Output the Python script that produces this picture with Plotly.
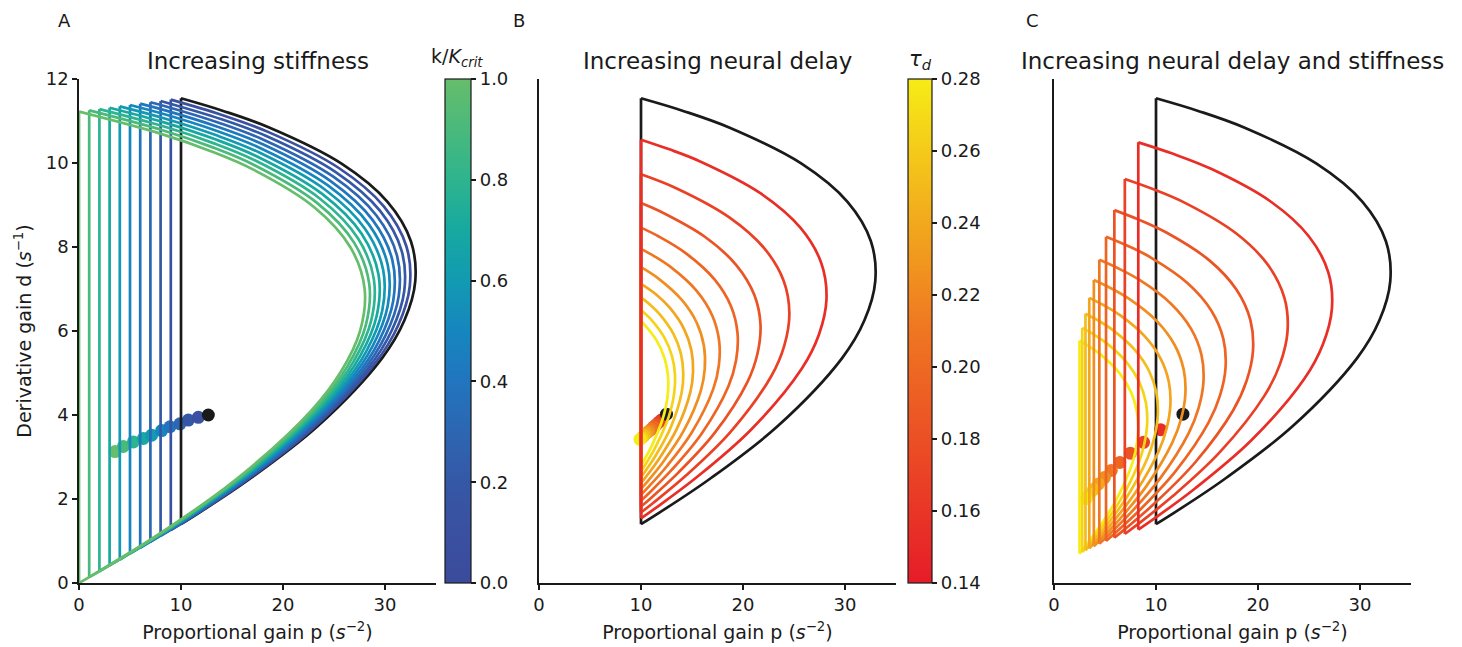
import plotly.graph_objects as go
from plotly.colors import sample_colorscale

# ---------------- data ----------------
P_TICKS = [0, 10, 20, 30]
D_TICKS = [0, 2, 4, 6, 8, 10, 12]

# Panel A: stiffness ratio k/Kcrit of each coloured boundary
A_KAPPA = [1.0, 0.9, 0.8, 0.7, 0.6, 0.5, 0.4, 0.3, 0.2, 0.1]
A_P = [
    [0, 2.000, 7.519, 15.159, 22.750, 25.689, 27.566, 28.003, 26.622, 23.065, 16.997, 12.926, 8.121, 0],
    [1, 2.980, 8.440, 15.984, 23.446, 26.311, 28.107, 28.457, 26.985, 23.332, 17.167, 13.047, 8.192, 1],
    [2, 3.960, 9.361, 16.810, 24.143, 26.932, 28.647, 28.910, 27.347, 23.600, 17.337, 13.167, 8.262, 2],
    [3, 4.940, 10.282, 17.635, 24.840, 27.554, 29.187, 29.364, 27.709, 23.868, 17.507, 13.288, 8.333, 3],
    [4, 5.920, 11.203, 18.460, 25.537, 28.175, 29.727, 29.817, 28.071, 24.135, 17.677, 13.408, 8.404, 4],
    [5, 6.900, 12.124, 19.286, 26.234, 28.797, 30.268, 30.271, 28.434, 24.403, 17.847, 13.529, 8.475, 5],
    [6, 7.880, 13.045, 20.111, 26.930, 29.419, 30.808, 30.725, 28.796, 24.670, 18.017, 13.649, 8.545, 6],
    [7, 8.860, 13.966, 20.936, 27.627, 30.040, 31.348, 31.178, 29.159, 24.938, 18.187, 13.770, 8.616, 7],
    [8, 9.840, 14.887, 21.762, 28.324, 30.662, 31.888, 31.632, 29.521, 25.205, 18.357, 13.890, 8],
    [9, 10.821, 15.809, 22.587, 29.020, 31.283, 32.429, 32.085, 29.883, 25.473, 18.527, 14.011, 9],
]
A_D = [
    [0, 0.284, 1.113, 2.420, 4.099, 5.036, 6.011, 7.003, 7.989, 8.948, 9.855, 10.282, 10.688, 11.222],
    [0.14, 0.423, 1.249, 2.552, 4.225, 5.158, 6.129, 7.116, 8.098, 9.051, 9.953, 10.378, 10.781, 11.253],
    [0.28, 0.562, 1.385, 2.683, 4.350, 5.279, 6.246, 7.230, 8.207, 9.155, 10.052, 10.473, 10.874, 11.284],
    [0.42, 0.701, 1.522, 2.815, 4.476, 5.401, 6.364, 7.343, 8.315, 9.259, 10.150, 10.569, 10.967, 11.317],
    [0.56, 0.840, 1.658, 2.947, 4.602, 5.523, 6.482, 7.456, 8.424, 9.363, 10.249, 10.665, 11.060, 11.349],
    [0.70, 0.979, 1.794, 3.079, 4.727, 5.645, 6.600, 7.570, 8.533, 9.466, 10.347, 10.761, 11.153, 11.381],
    [0.84, 1.118, 1.931, 3.210, 4.853, 5.767, 6.718, 7.683, 8.641, 9.570, 10.446, 10.857, 11.246, 11.413],
    [0.98, 1.257, 2.067, 3.342, 4.978, 5.889, 6.835, 7.797, 8.750, 9.674, 10.544, 10.953, 11.340, 11.445],
    [1.12, 1.396, 2.203, 3.474, 5.104, 6.011, 6.953, 7.910, 8.859, 9.778, 10.643, 11.048, 11.477],
    [1.26, 1.535, 2.339, 3.606, 5.229, 6.132, 7.071, 8.024, 8.968, 9.881, 10.741, 11.144, 11.509],
]
# reference (black) boundary, shared by the three panels
REF_P = [10, 11.801, 16.730, 23.412, 29.717, 31.905, 32.969, 32.539, 30.246, 25.740, 18.697, 14.131, 10]
REF_D = [1.40, 1.675, 2.476, 3.737, 5.355, 6.254, 7.189, 8.137, 9.076, 9.985, 10.840, 11.240, 11.541]

A_DOT_P = [3.53, 4.35, 5.33, 6.31, 7.12, 8.10, 8.92, 9.90, 10.72, 11.70]
A_DOT_D = [3.13, 3.25, 3.36, 3.44, 3.52, 3.63, 3.72, 3.79, 3.88, 3.945]
A_REF_DOT = (12.68, 4.00)

# Panels B and C: neural delay of each coloured boundary
TAU = [0.154, 0.168, 0.182, 0.196, 0.210, 0.224, 0.238, 0.252, 0.266, 0.280]
B_P = [
    [10, 11.454, 15.425, 20.782, 25.769, 27.447, 28.185, 27.679, 25.626, 21.737, 15.747, 12.708, 10],
    [10, 11.190, 14.432, 18.781, 22.766, 24.056, 24.546, 23.983, 22.112, 18.692, 13.503, 10],
    [10, 10.984, 13.660, 17.223, 20.429, 21.417, 21.715, 21.106, 19.377, 16.323, 11.757, 10],
    [10, 10.821, 13.047, 15.988, 18.574, 19.323, 19.467, 18.823, 17.207, 14.443, 11.739, 10],
    [10, 10.690, 12.552, 14.991, 17.078, 17.634, 17.655, 16.982, 15.456, 12.926, 11.241, 10],
    [10, 10.582, 12.148, 14.175, 15.854, 16.251, 16.171, 15.475, 14.023, 11.685, 10],
    [10, 10.493, 11.813, 13.499, 14.839, 15.105, 14.941, 14.225, 12.836, 11.399, 10],
    [10, 10.418, 11.531, 12.932, 13.988, 14.145, 13.911, 13.179, 11.841, 10.912, 10],
    [10, 10.355, 11.293, 12.453, 12.945, 13.269, 13.332, 13.039, 12.293, 10.998, 10],
    [10, 10.301, 11.090, 12.043, 12.429, 12.654, 12.638, 12.295, 11.537, 10.279, 10],
]
B_D = [
    [1.54, 1.788, 2.511, 3.649, 5.107, 5.918, 6.760, 7.614, 8.459, 9.276, 10.043, 10.331, 10.555],
    [1.68, 1.905, 2.563, 3.598, 4.923, 5.659, 6.423, 7.197, 7.962, 8.701, 9.395, 9.732],
    [1.82, 2.026, 2.628, 3.574, 4.785, 5.458, 6.155, 6.861, 7.559, 8.232, 8.862, 9.049],
    [1.96, 2.150, 2.703, 3.573, 4.686, 5.303, 5.943, 6.590, 7.229, 7.844, 8.251, 8.461],
    [2.10, 2.275, 2.786, 3.590, 4.616, 5.185, 5.774, 6.370, 6.957, 7.521, 7.790, 7.956],
    [2.24, 2.402, 2.876, 3.620, 4.571, 5.097, 5.641, 6.191, 6.733, 7.253, 7.519],
    [2.38, 2.531, 2.972, 3.663, 4.546, 5.034, 5.538, 6.047, 6.548, 6.886, 7.123],
    [2.52, 2.661, 3.072, 3.716, 4.537, 4.991, 5.460, 5.932, 6.396, 6.620, 6.800],
    [2.66, 2.792, 3.175, 3.777, 4.143, 4.543, 4.966, 5.402, 5.841, 6.271, 6.502],
    [2.80, 2.923, 3.282, 3.845, 4.187, 4.560, 4.955, 5.361, 5.770, 6.169, 6.239],
]
B_DOT_P = [12.0, 11.75, 11.5, 11.25, 11.0, 10.75, 10.5, 10.3, 10.1, 9.9]
B_DOT_D = [3.88, 3.83, 3.77, 3.72, 3.66, 3.61, 3.56, 3.51, 3.46, 3.42]
B_REF_DOT = (12.5, 4.02)

C_P = [
    [8.264, 9.753, 13.826, 19.349, 24.560, 26.368, 27.247, 26.892, 24.997, 21.273, 15.452, 11.679, 8.264],
    [6.944, 8.195, 11.618, 16.258, 20.637, 22.156, 22.895, 22.597, 21.004, 17.875, 12.984, 9.813, 6.944],
    [5.917, 6.983, 9.899, 13.853, 17.584, 18.879, 19.508, 19.254, 17.897, 15.231, 11.063, 8.362, 5.917],
    [5.102, 6.021, 8.536, 11.945, 15.162, 16.278, 16.821, 16.602, 15.432, 13.133, 9.539, 7.210, 5.102],
    [4.444, 5.245, 7.436, 10.405, 13.208, 14.180, 14.653, 14.462, 13.443, 11.440, 8.310, 6.280, 4.444],
    [3.906, 4.610, 6.535, 9.145, 11.608, 12.463, 12.878, 12.711, 11.815, 10.055, 7.303, 5.520, 3.906],
    [3.460, 4.083, 5.789, 8.101, 10.283, 11.040, 11.408, 11.259, 10.466, 8.907, 6.470, 4.890, 3.460],
    [3.086, 3.642, 5.164, 7.226, 9.172, 9.847, 10.176, 10.043, 9.335, 7.944, 5.771, 4.361, 3.086],
    [2.770, 3.269, 4.634, 6.485, 8.232, 8.838, 9.133, 9.014, 8.378, 7.130, 5.179, 3.914, 2.770],
    [2.500, 2.950, 4.183, 5.853, 7.429, 7.976, 8.242, 8.135, 7.562, 6.435, 4.674, 3.533, 2.500],
]
C_D = [
    [1.273, 1.522, 2.251, 3.398, 4.868, 5.686, 6.535, 7.397, 8.251, 9.077, 9.855, 10.218, 10.492],
    [1.167, 1.395, 2.063, 3.115, 4.462, 5.212, 5.991, 6.781, 7.564, 8.321, 9.033, 9.367, 9.618],
    [1.077, 1.288, 1.904, 2.875, 4.119, 4.811, 5.530, 6.259, 6.982, 7.681, 8.338, 8.646, 8.878],
    [1.000, 1.196, 1.768, 2.670, 3.825, 4.467, 5.135, 5.812, 6.483, 7.132, 7.743, 8.029, 8.244],
    [0.933, 1.116, 1.650, 2.492, 3.570, 4.169, 4.793, 5.425, 6.051, 6.657, 7.227, 7.493, 7.694],
    [0.875, 1.047, 1.547, 2.336, 3.347, 3.909, 4.493, 5.086, 5.673, 6.241, 6.775, 7.025, 7.213],
    [0.824, 0.985, 1.456, 2.198, 3.150, 3.679, 4.229, 4.786, 5.339, 5.874, 6.376, 6.612, 6.789],
    [0.778, 0.930, 1.375, 2.076, 2.975, 3.475, 3.994, 4.521, 5.042, 5.547, 6.022, 6.245, 6.412],
    [0.737, 0.881, 1.303, 1.967, 2.818, 3.292, 3.784, 4.283, 4.777, 5.255, 5.705, 5.916, 6.074],
    [0.700, 0.837, 1.238, 1.869, 2.677, 3.127, 3.594, 4.068, 4.538, 4.993, 5.420, 5.620, 5.771],
]
C_DOT_P = [10.45, 8.78, 7.48, 6.45, 5.62, 4.94, 4.37, 3.90, 3.50, 3.16]
C_DOT_D = [3.65, 3.35, 3.09, 2.87, 2.68, 2.51, 2.36, 2.23, 2.12, 2.01]
C_REF_DOT = (12.64, 4.02)

KAPPA_TICKS = [0.0, 0.2, 0.4, 0.6, 0.8, 1.0]
TAU_TICKS = [0.14, 0.16, 0.18, 0.20, 0.22, 0.24, 0.26, 0.28]
TAU_MIN, TAU_MAX = 0.14, 0.28

TITLES = ["Increasing stiffness", "Increasing neural delay", "Increasing neural delay and stiffness"]
LETTERS = ["A", "B", "C"]
XLABEL = "Proportional gain p (<i>s</i><sup>\u22122</sup>)"
YLABEL = "Derivative gain d (<i>s</i><sup>\u22121</sup>)"

# ---------------- styles ----------------
W, H = 1462, 647
FONT = "DejaVu Sans"
INK = "#1a1a1a"
KSCALE = [[0.0, "rgb(59,75,156)"], [0.1, "rgb(58,80,160)"], [0.2, "rgb(53,88,166)"],
          [0.3, "rgb(45,102,178)"], [0.4, "rgb(33,117,190)"], [0.5, "rgb(22,134,191)"],
          [0.6, "rgb(18,154,178)"], [0.7, "rgb(23,169,160)"], [0.8, "rgb(46,180,142)"],
          [0.9, "rgb(74,185,124)"], [1.0, "rgb(102,189,107)"]]
TSCALE = [[0.0, "rgb(230,28,40)"], [0.5, "rgb(239,118,34)"], [1.0, "rgb(246,236,22)"]]
LW = 2.7
DOT = 13

XDOM = [(79 / W, 436 / W), (539 / W, 896 / W), (1054 / W, 1411 / W)]
YDOM = (64 / H, 568 / H)

fig = go.Figure()


def add_panel(idx, ps, ds, colors, dot_p, dot_d, ref_dot):
    xa = "x" if idx == 0 else f"x{idx + 1}"
    ya = "y" if idx == 0 else f"y{idx + 1}"
    # optimal-gain dots (underneath the boundaries)
    fig.add_trace(go.Scatter(x=dot_p, y=dot_d, mode="markers", xaxis=xa, yaxis=ya,
                             marker=dict(size=DOT, color=colors, line=dict(width=0)),
                             hoverinfo="skip"))
    fig.add_trace(go.Scatter(x=[ref_dot[0]], y=[ref_dot[1]], mode="markers", xaxis=xa, yaxis=ya,
                             marker=dict(size=DOT, color=INK, line=dict(width=0)),
                             hoverinfo="skip"))
    # reference boundary first, then the coloured ones
    curves = [(REF_P, REF_D, INK)] + [(p, d, c) for p, d, c in zip(ps, ds, colors)][::-1]
    for p, d, c in curves:
        fig.add_trace(go.Scatter(x=p, y=d, mode="lines", xaxis=xa, yaxis=ya,
                                 line=dict(color=c, width=LW, shape="spline", smoothing=1),
                                 hoverinfo="skip"))
        fig.add_trace(go.Scatter(x=[p[0], p[-1]], y=[d[0], d[-1]], mode="lines", xaxis=xa, yaxis=ya,
                                 line=dict(color=c, width=LW), hoverinfo="skip"))


a_colors = sample_colorscale(KSCALE, A_KAPPA)
t_frac = [(t - TAU_MIN) / (TAU_MAX - TAU_MIN) for t in TAU]
t_colors = sample_colorscale(TSCALE, t_frac)

add_panel(0, A_P, A_D, a_colors, A_DOT_P, A_DOT_D, A_REF_DOT)
add_panel(1, B_P, B_D, t_colors, B_DOT_P, B_DOT_D, B_REF_DOT)
add_panel(2, C_P, C_D, t_colors, C_DOT_P, C_DOT_D, C_REF_DOT)

# colorbars (dummy traces outside the visible range)
fig.add_trace(go.Scatter(
    x=[-100, -100], y=[-100, -100], mode="markers", xaxis="x", yaxis="y", hoverinfo="skip",
    marker=dict(color=[0, 1], cmin=0, cmax=1, colorscale=KSCALE, showscale=True,
                colorbar=dict(x=445 / W, xanchor="left", y=YDOM[0], yanchor="bottom",
                              len=504, lenmode="pixels", thickness=26, thicknessmode="pixels",
                              xpad=0, ypad=0, outlinewidth=1.2, outlinecolor=INK,
                              ticks="outside", ticklen=5, tickwidth=1.5, tickcolor=INK,
                              tickvals=KAPPA_TICKS, ticktext=[f"{v:.1f}" for v in KAPPA_TICKS],
                              tickfont=dict(size=18, family=FONT, color=INK)))))
fig.add_trace(go.Scatter(
    x=[-100, -100], y=[-100, -100], mode="markers", xaxis="x2", yaxis="y2", hoverinfo="skip",
    marker=dict(color=[TAU_MIN, TAU_MAX], cmin=TAU_MIN, cmax=TAU_MAX, colorscale=TSCALE, showscale=True,
                colorbar=dict(x=908 / W, xanchor="left", y=YDOM[0], yanchor="bottom",
                              len=504, lenmode="pixels", thickness=24, thicknessmode="pixels",
                              xpad=0, ypad=0, outlinewidth=1.2, outlinecolor=INK,
                              ticks="outside", ticklen=5, tickwidth=1.5, tickcolor=INK,
                              tickvals=TAU_TICKS, ticktext=[f"{v:.2f}" for v in TAU_TICKS],
                              tickfont=dict(size=18, family=FONT, color=INK)))))

xcommon = dict(range=[0, 35], tickvals=P_TICKS, showline=True, linecolor=INK, linewidth=1.6,
               ticks="outside", ticklen=5, tickwidth=1.6, tickcolor=INK, showgrid=False,
               zeroline=False, tickfont=dict(size=18, family=FONT, color=INK), automargin=False,
               title=dict(text=XLABEL, font=dict(size=19, family=FONT, color=INK), standoff=11))
ycommon = dict(range=[0, 12], domain=list(YDOM), showline=True, linecolor=INK, linewidth=1.6,
               showgrid=False, zeroline=False, automargin=False)

fig.update_layout(
    width=W, height=H, margin=dict(l=0, r=0, t=0, b=0),
    paper_bgcolor="white", plot_bgcolor="white", showlegend=False,
    font=dict(family=FONT, size=18, color=INK),
    xaxis=dict(domain=list(XDOM[0]), anchor="y", **xcommon),
    xaxis2=dict(domain=list(XDOM[1]), anchor="y2", **xcommon),
    xaxis3=dict(domain=list(XDOM[2]), anchor="y3", **xcommon),
    yaxis=dict(anchor="x", tickvals=D_TICKS, ticks="outside", ticklen=5, tickwidth=1.6,
               tickcolor=INK, tickfont=dict(size=18, family=FONT, color=INK),
               title=dict(text=YLABEL, font=dict(size=19, family=FONT, color=INK), standoff=9),
               **ycommon),
    yaxis2=dict(anchor="x2", ticks="", showticklabels=False, **ycommon),
    yaxis3=dict(anchor="x3", ticks="", showticklabels=False, **ycommon),
)

ann = []
centers = [(XDOM[i][0] + XDOM[i][1]) / 2 for i in range(3)]
for i in range(3):
    ann.append(dict(text=TITLES[i], x=centers[i], y=1 - 61 / H, xref="paper", yref="paper",
                    xanchor="center", yanchor="middle", showarrow=False,
                    font=dict(size=23, family=FONT, color=INK)))
for txt, px in zip(LETTERS, [64, 519, 1032]):
    ann.append(dict(text=txt, x=px / W, y=1 - 21 / H, xref="paper", yref="paper",
                    xanchor="center", yanchor="middle", showarrow=False,
                    font=dict(size=18, family=FONT, color=INK)))
ann.append(dict(text="k/<i>K<sub>crit</sub></i>", x=457 / W, y=1 - 58 / H, xref="paper", yref="paper",
                xanchor="center", yanchor="middle", showarrow=False,
                font=dict(size=19, family=FONT, color=INK)))
ann.append(dict(text="<i>\u03c4<sub>d</sub></i>", x=920 / W, y=1 - 60 / H, xref="paper", yref="paper",
                xanchor="center", yanchor="middle", showarrow=False,
                font=dict(size=21, family=FONT, color=INK)))
fig.update_layout(annotations=ann)

fig.write_html("out.html", config={"displayModeBar": False},
               post_script="document.body.style.margin='0px';document.body.style.overflow='hidden';")
